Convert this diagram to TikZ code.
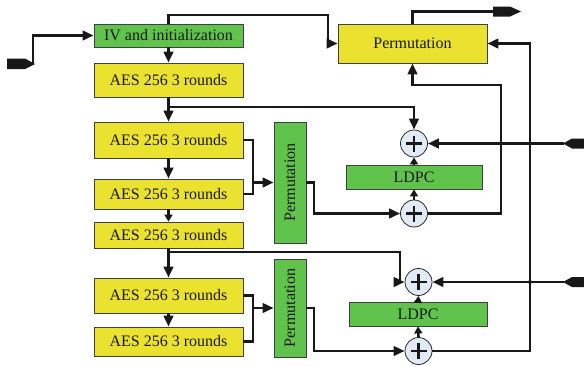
\documentclass[tikz,border=0pt]{standalone}
\usepackage{fontspec}
\setmainfont{Liberation Serif}
\usepackage{graphicx}
\usetikzlibrary{arrows.meta}
\definecolor{aesyellow}{RGB}{235,226,48}
\definecolor{ldpcgreen}{RGB}{96,196,76}
\definecolor{xorfill}{RGB}{226,234,246}
\definecolor{inkc}{RGB}{24,24,24}
\begin{document}
\begin{tikzpicture}[x=1pt,y=-1pt,
  basebox/.style={draw=black!75, line width=0.8pt, inner sep=0pt, text=inkc,
    font=\fontsize{16}{19}\selectfont},
  ybox/.style={basebox, fill=aesyellow},
  gbox/.style={basebox, fill=ldpcgreen},
  xor/.style={circle, draw=black!85, line width=0.8pt, fill=xorfill, minimum size=27pt, inner sep=0pt,
    path picture={\draw[line width=2.8pt, inkc]
      ([xshift=-8pt]path picture bounding box.center) -- ([xshift=8pt]path picture bounding box.center)
      ([yshift=-8pt]path picture bounding box.center) -- ([yshift=8pt]path picture bounding box.center);}},
  conn/.style={line width=2.6pt, draw=inkc},
  arr/.style={-{Triangle[length=11pt,width=9.5pt]}},
  arrs/.style={-{Triangle[length=7pt,width=8pt]}},
  dotc/.style={circle, fill=inkc, inner sep=0pt, minimum size=4pt},
  tipfill/.style={fill=inkc}
]
\useasboundingbox (0,0) rectangle (584,367);

% left column
\node[gbox, minimum width=149, minimum height=23] (iv) at (168.5,35.5) {IV and initialization};
\node[ybox, minimum width=149, minimum height=34] (aes1) at (168.5,80) {AES 256 3 rounds};
\node[ybox, minimum width=149, minimum height=36] (aes2) at (168.5,140) {AES 256 3 rounds};
\node[ybox, minimum width=149, minimum height=30] (aes3) at (168.5,194) {AES 256 3 rounds};
\node[ybox, minimum width=149, minimum height=26] (aes4) at (168.5,235) {AES 256 3 rounds};
\node[ybox, minimum width=149, minimum height=35] (aes5) at (168.5,295.5) {AES 256 3 rounds};
\node[ybox, minimum width=149, minimum height=29] (aes6) at (168.5,341.5) {AES 256 3 rounds};

% permutations
\node[ybox, minimum width=149, minimum height=39] (perm) at (412.5,43.5) {Permutation};
\node[gbox, minimum width=32, minimum height=121] (vp1) at (290,182.5) {\rotatebox{90}{Permutation}};
\node[gbox, minimum width=32, minimum height=98] (vp2) at (290,308) {\rotatebox{90}{Permutation}};

% LDPC and XOR
\node[gbox, minimum width=136, minimum height=24] (ldpc1) at (414,177) {LDPC};
\node[gbox, minimum width=138, minimum height=24] (ldpc2) at (418,314) {LDPC};
\node[xor] (xor1) at (414,143.5) {};
\node[xor] (xor2) at (414,213.5) {};
\node[xor] (xor3) at (418.5,282) {};
\node[xor] (xor4) at (418.5,351) {};

% terminals
\coordinate (inL) at (33,64);
\coordinate (outT) at (494,11.5);
\coordinate (inR1) at (564,143.5);
\coordinate (inR2) at (564,282);
\fill[tipfill] (7,58.5) -- (25,58.5) -- (35,64) -- (25,69) -- (7,69) -- cycle;
\fill[tipfill] (493,6.5) -- (510,6.5) -- (521,11.5) -- (510,16.5) -- (493,16.5) -- cycle;
\fill[tipfill] (563,143.5) -- (572,138.5) -- (584,138.5) -- (584,148.5) -- (572,148.5) -- cycle;
\fill[tipfill] (563,282) -- (572,277) -- (584,277) -- (584,287) -- (572,287) -- cycle;

% input and IV
\draw[conn, arr] (inL) |- (iv.west);
\draw[conn, arr] (iv.north) -- (168.5,15) -- (328,15) -- (328,43.5) -- (perm.west);
\draw[conn] (perm.north) |- (outT);
\draw[conn, arr] (iv.south) -- (aes1.north);

% chain
\draw[conn, arr] (aes1.south) -- (aes2.north);
\draw[conn, arr] (168.5,107) -- (414,107) -- (xor1.north);
\draw[conn, arr] (aes2.south) -- (aes3.north);
\draw[conn, arrs] (aes3.south) -- (aes4.north);
\draw[conn, arr] (aes4.south) -- (aes5.north);
\draw[conn] (168.5,252) -- (400,252) -- (400,282);
\draw[conn, arr] (394,282) -- (xor3.west);
\draw[conn, arr] (aes5.south) -- (aes6.north);

% brackets
\draw[conn] (aes2.east) -- (253,140) -- (253,194) -- (aes3.east);
\draw[conn, arr] (253,182.5) -- (vp1.west);
\draw[conn] (aes5.east) -- (253,295.5) -- (253,341.5) -- (aes6.east);
\draw[conn, arr] (253,308) -- (vp2.west);

% group 1 right side
\draw[conn, arr] (vp1.east) -- (314,182.5) |- (xor2.west);
\draw[conn, arrs] (xor2.north) -- (ldpc1.south);
\draw[conn, arrs] (ldpc1.north) -- (xor1.south);
\draw[conn, arr] (xor2.east) -- (501,213.5) -- (501,85) -- (412.5,85) -- (perm.south);
\draw[conn, arr] (inR1) -- (xor1.east);

% group 2 right side
\draw[conn, arr] (vp2.east) -- (314,308) |- (xor4.west);
\draw[conn, arrs] (xor4.north) -- (ldpc2.south);
\draw[conn, arrs] (ldpc2.north) -- (xor3.south);
\draw[conn, arr] (xor4.east) -- (530,351) -- (530,43.5) -- (perm.east);
\draw[conn, arr] (inR2) -- (xor3.east);

% crossing dots
\node[dotc] (d1) at (501,143.5) {};
\node[dotc] (d2) at (530,143.5) {};
\node[dotc] (d3) at (530,282) {};
\end{tikzpicture}
\end{document}
